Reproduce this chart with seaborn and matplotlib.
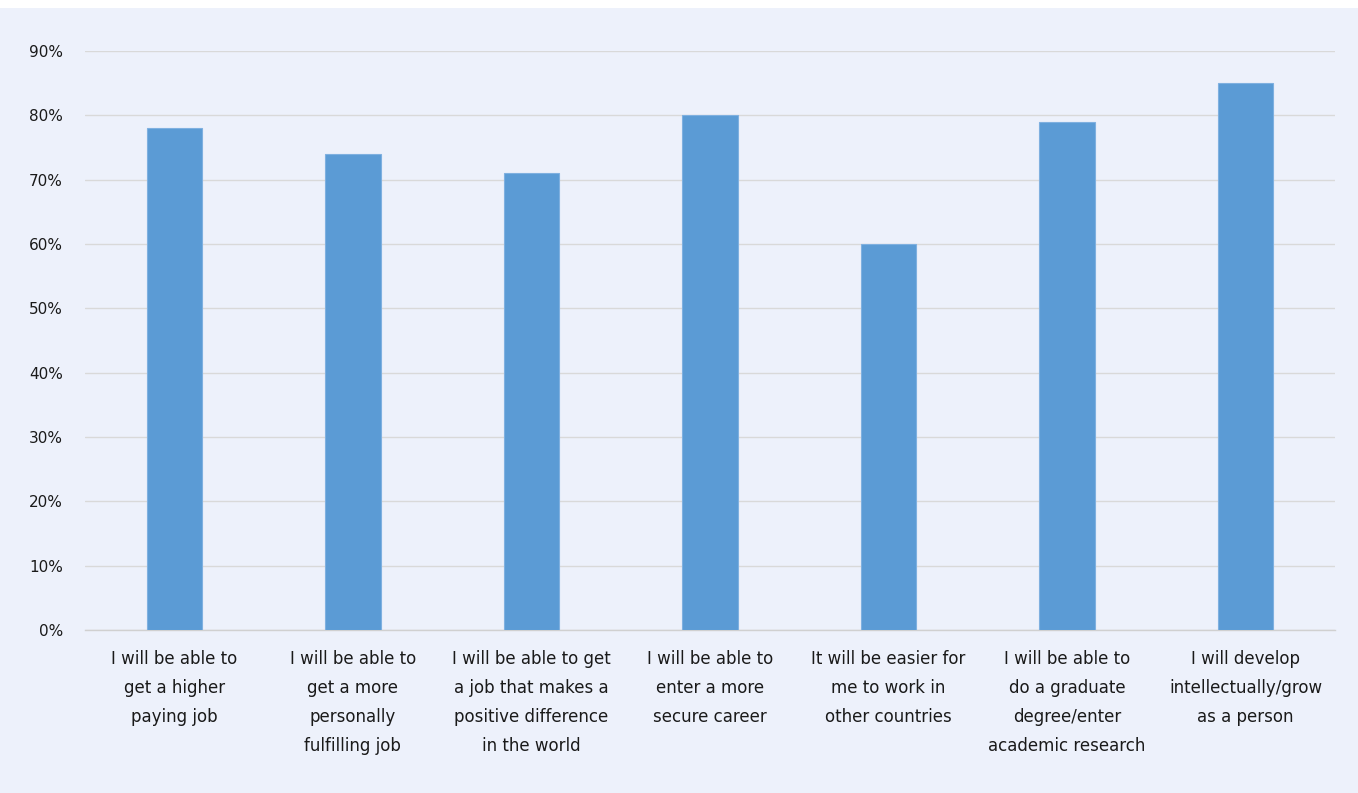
import matplotlib
matplotlib.use("Agg")
import matplotlib.pyplot as plt
import seaborn as sns
import pandas as pd
from matplotlib.patches import Rectangle
from matplotlib.ticker import FuncFormatter

categories = [
    "I will be able to\nget a higher\npaying job",
    "I will be able to\nget a more\npersonally\nfulfilling job",
    "I will be able to get\na job that makes a\npositive difference\nin the world",
    "I will be able to\nenter a more\nsecure career",
    "It will be easier for\nme to work in\nother countries",
    "I will be able to\ndo a graduate\ndegree/enter\nacademic research",
    "I will develop\nintellectually/grow\nas a person",
]
values = [0.78, 0.74, 0.71, 0.80, 0.60, 0.79, 0.85]
y_ticks = [0.0, 0.1, 0.2, 0.3, 0.4, 0.5, 0.6, 0.7, 0.8, 0.9]

sns.set_theme(style="white")
plt.rcParams["font.family"] = ["DejaVu Sans"]

bg = "#EDF1FB"
fig = plt.figure(figsize=(13.58, 7.93), dpi=100, facecolor="white")
fig.patches.append(Rectangle((0, 0), 1, 1 - 8 / 793, transform=fig.transFigure,
                             facecolor=bg, edgecolor="none", zorder=-10))
ax = fig.add_axes([85 / 1358, 1 - 630 / 793, 1250 / 1358, (630 - 51) / 793])
ax.set_facecolor(bg)

df = pd.DataFrame({"cat": categories, "val": values})
sns.barplot(data=df, x="cat", y="val", color="#5B9BD5", saturation=1,
            width=0.31, edgecolor="#7FB0E0", linewidth=0.8, ax=ax, zorder=3)

ax.set_ylim(0, 0.9)
ax.set_xlim(-0.5, len(categories) - 0.5)
ax.set_yticks(y_ticks)
ax.yaxis.set_major_formatter(FuncFormatter(lambda v, _: f"{v * 100:.0f}%"))
ax.grid(axis="y", color="#D9D9D9", linewidth=1, zorder=0)
for s in ["top", "right", "left"]:
    ax.spines[s].set_visible(False)
ax.spines["bottom"].set_color("#D0D0D0")
ax.spines["bottom"].set_linewidth(1)
ax.tick_params(axis="both", length=0, colors="#1a1a1a")
ax.tick_params(axis="y", pad=16, labelsize=11)
ax.tick_params(axis="x", pad=14.5, labelsize=12)
for lbl in ax.get_xticklabels():
    lbl.set_linespacing(1.78)
    lbl.set_verticalalignment("top")
ax.set_xlabel("")
ax.set_ylabel("")

fig.savefig("out.png", dpi=100, facecolor=fig.get_facecolor())
